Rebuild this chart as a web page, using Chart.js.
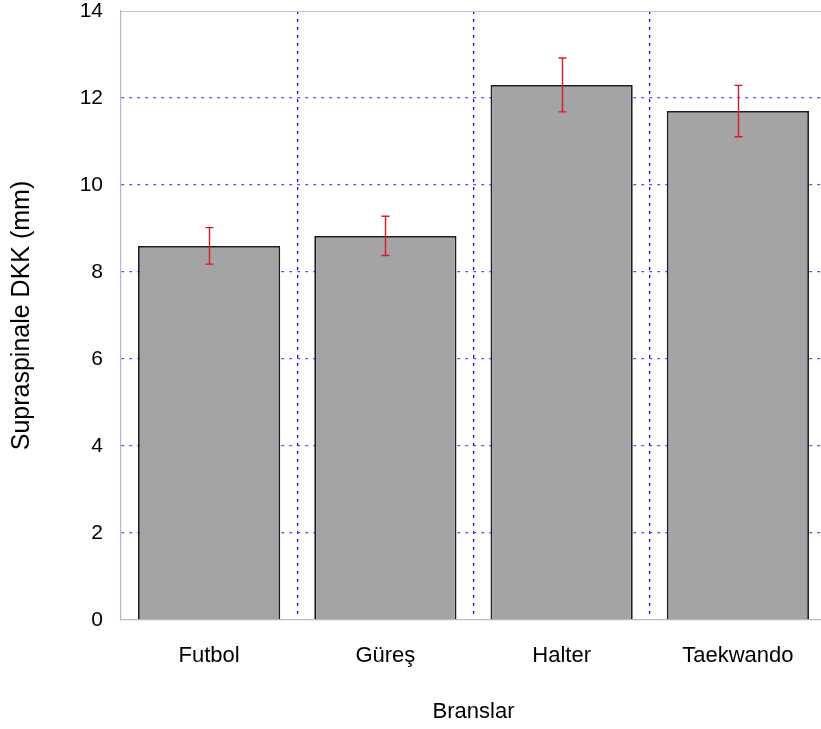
<!DOCTYPE html>
<html>
<head>
<meta charset="utf-8">
<script src="https://cdn.jsdelivr.net/npm/chart.js@4/dist/chart.umd.min.js"></script>
<style>
  html, body { margin: 0; padding: 0; background: #fff; overflow: hidden; }
  #wrap { width: 826px; height: 729px; }
</style>
</head>
<body>
<div id="wrap"><canvas id="c" width="826" height="729"></canvas></div>
<script>
// Supraspinale skinfold (mm) by sport branch, mean ± error
const categories = ['Futbol', 'Güreş', 'Halter', 'Taekwando'];
const means = [8.60, 8.83, 12.30, 11.70];
const errors = [0.42, 0.45, 0.62, 0.59];
const yTicks = [0, 2, 4, 6, 8, 10, 12, 14];

const FONT = "'Liberation Sans', Arial, sans-serif";

// Draws red error bars with caps from the y scale
const errorBars = {
  id: 'errorBars',
  afterDatasetsDraw(chart) {
    const { ctx } = chart;
    const y = chart.scales.y;
    const meta = chart.getDatasetMeta(0);
    ctx.save();
    ctx.strokeStyle = '#d61c22';
    ctx.lineWidth = 1.4;
    meta.data.forEach((bar, i) => {
      const x = Math.round(bar.x) + 0.5;
      const hi = y.getPixelForValue(means[i] + errors[i]);
      const lo = y.getPixelForValue(means[i] - errors[i]);
      ctx.beginPath();
      ctx.moveTo(x, hi); ctx.lineTo(x, lo);
      ctx.moveTo(x - 4, hi); ctx.lineTo(x + 4, hi);
      ctx.moveTo(x - 4, lo); ctx.lineTo(x + 4, lo);
      ctx.stroke();
    });
    ctx.restore();
  }
};

// Solid light frame along the top of the plot area
const topFrame = {
  id: 'topFrame',
  beforeDatasetsDraw(chart) {
    const { ctx, chartArea: a } = chart;
    ctx.save();
    ctx.strokeStyle = '#c4c4c4';
    ctx.lineWidth = 1.2;
    ctx.beginPath();
    ctx.moveTo(a.left, Math.round(a.top) + 0.5);
    ctx.lineTo(a.right, Math.round(a.top) + 0.5);
    ctx.stroke();
    ctx.restore();
  }
};

new Chart(document.getElementById('c'), {
  type: 'bar',
  data: {
    labels: categories,
    datasets: [{
      data: means,
      backgroundColor: '#a4a4a4',
      borderColor: '#1e1e1e',
      borderWidth: 1.8,
      borderSkipped: 'bottom',
      barPercentage: 0.807,
      categoryPercentage: 1.0
    }]
  },
  options: {
    responsive: false,
    animation: false,
    layout: { padding: 0 },
    plugins: { legend: { display: false }, tooltip: { enabled: false } },
    scales: {
      x: {
        grid: {
          offset: true,
          drawTicks: false,
          color: (c) => (c.index === 0 ? 'rgba(0,0,0,0)' : '#1212e0'),
          lineWidth: 1.3
        },
        border: { display: true, color: '#b8b8cc', dash: [3, 5], width: 1.2 },
        ticks: { padding: 23, color: '#000', font: { family: FONT, size: 22 } },
        title: {
          display: true, text: 'Branslar', color: '#000',
          font: { family: FONT, size: 22 }, padding: { top: 0, bottom: 4 }
        },
        afterFit: (s) => { s.height = 109; }
      },
      y: {
        min: 0, max: 14,
        afterBuildTicks: (s) => { s.ticks = yTicks.map(v => ({ value: v })); },
        grid: {
          drawTicks: false,
          color: (c) => {
            if (c.tick && (c.tick.value === 14 || c.tick.value === 0)) return 'rgba(0,0,0,0)';
            return 'rgba(70,70,235,0.9)';
          },
          lineWidth: 1.3
        },
        border: { display: true, color: '#b4b4d4', dash: [3, 5], width: 1.2 },
        ticks: { padding: 18, color: '#000', font: { family: FONT, size: 21, lineHeight: 1.05 } },
        title: {
          display: true, text: 'Supraspinale DKK (mm)', color: '#000',
          font: { family: FONT, size: 25 }, padding: { top: 7, bottom: 0 }
        },
        afterFit: (s) => {
          s.width = 121;
          s.paddingTop = 11;
          s.paddingBottom = 0;
        }
      }
    }
  },
  plugins: [topFrame, errorBars]
});
</script>
</body>
</html>
